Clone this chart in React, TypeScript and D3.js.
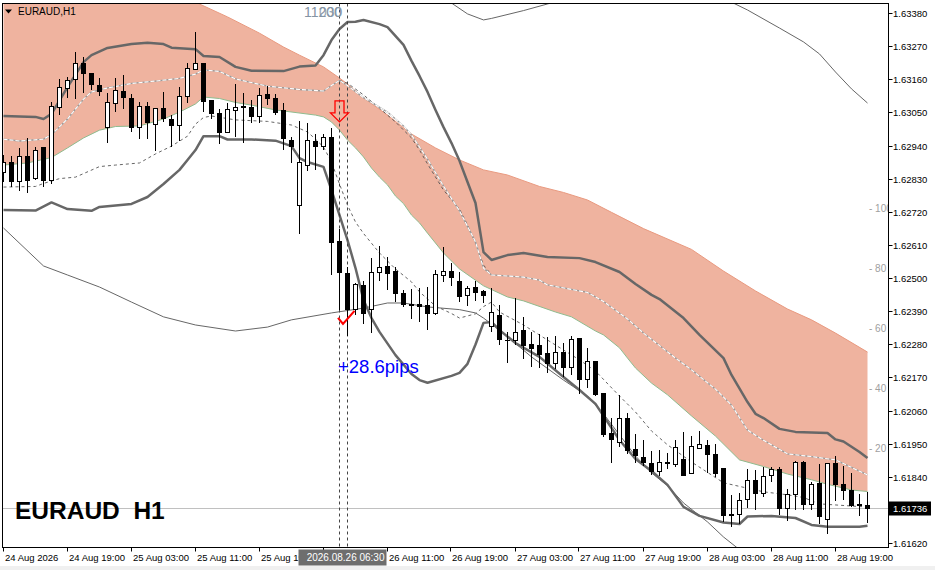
import { useEffect, useRef } from 'react'
import * as d3 from 'd3'

const W = 935, H = 570

// EURAUD H1, one bar per hour from 24 Aug 2026 11:00 — [open, high, low, close]
const candles: [number, number, number, number][] = [
  [1.62851, 1.62908, 1.62820, 1.62884], [1.62884, 1.62905, 1.62803, 1.62820], [1.62820, 1.62931, 1.62790, 1.62904],
  [1.62902, 1.62966, 1.62781, 1.62825], [1.62829, 1.62934, 1.62825, 1.62924], [1.62934, 1.62934, 1.62803, 1.62825],
  [1.62823, 1.63084, 1.62811, 1.63069], [1.63067, 1.63160, 1.63041, 1.63133], [1.63130, 1.63168, 1.63097, 1.63155],
  [1.63160, 1.63250, 1.63093, 1.63213], [1.63213, 1.63235, 1.63113, 1.63178], [1.63180, 1.63182, 1.63124, 1.63143],
  [1.63138, 1.63163, 1.63104, 1.63119], [1.63000, 1.63113, 1.62949, 1.63082], [1.63078, 1.63163, 1.63052, 1.63123],
  [1.63118, 1.63174, 1.63061, 1.63099], [1.63097, 1.63111, 1.62986, 1.62999], [1.63000, 1.63085, 1.62962, 1.63070],
  [1.63070, 1.63085, 1.62961, 1.63017], [1.63010, 1.63062, 1.62923, 1.63062], [1.63062, 1.63118, 1.63019, 1.63029],
  [1.63027, 1.63041, 1.62934, 1.63006], [1.63007, 1.63135, 1.62955, 1.63102], [1.63102, 1.63215, 1.63080, 1.63196],
  [1.63193, 1.63316, 1.63193, 1.63213], [1.63213, 1.63213, 1.63052, 1.63085], [1.63090, 1.63090, 1.63027, 1.63047],
  [1.63047, 1.63061, 1.62944, 1.62984], [1.62982, 1.63080, 1.62980, 1.63058], [1.63057, 1.63143, 1.62967, 1.63067],
  [1.63071, 1.63115, 1.62949, 1.63065], [1.63065, 1.63091, 1.63014, 1.63036], [1.63036, 1.63130, 1.63014, 1.63105],
  [1.63108, 1.63138, 1.63074, 1.63095], [1.63097, 1.63110, 1.63041, 1.63049], [1.63055, 1.63080, 1.62925, 1.62963],
  [1.62958, 1.62969, 1.62881, 1.62936], [1.62740, 1.63021, 1.62646, 1.62884], [1.62873, 1.63014, 1.62856, 1.62955],
  [1.62952, 1.62977, 1.62859, 1.62936], [1.62936, 1.62977, 1.62925, 1.62967], [1.62968, 1.62997, 1.62510, 1.62617],
  [1.62620, 1.62662, 1.62394, 1.62518], [1.62516, 1.62536, 1.62308, 1.62396], [1.62397, 1.62482, 1.62377, 1.62477],
  [1.62474, 1.62491, 1.62347, 1.62383], [1.62394, 1.62565, 1.62316, 1.62517], [1.62519, 1.62607, 1.62490, 1.62536],
  [1.62537, 1.62569, 1.62460, 1.62514], [1.62520, 1.62538, 1.62419, 1.62447], [1.62447, 1.62460, 1.62405, 1.62413],
  [1.62413, 1.62462, 1.62363, 1.62409], [1.62412, 1.62466, 1.62355, 1.62407], [1.62410, 1.62469, 1.62327, 1.62381],
  [1.62383, 1.62527, 1.62377, 1.62513], [1.62508, 1.62602, 1.62488, 1.62522], [1.62522, 1.62549, 1.62474, 1.62501],
  [1.62490, 1.62520, 1.62419, 1.62438], [1.62443, 1.62474, 1.62407, 1.62464], [1.62467, 1.62490, 1.62424, 1.62451],
  [1.62454, 1.62460, 1.62418, 1.62443], [1.62338, 1.62466, 1.62322, 1.62386], [1.62377, 1.62410, 1.62278, 1.62297],
  [1.62294, 1.62322, 1.62219, 1.62291], [1.62294, 1.62433, 1.62276, 1.62320], [1.62327, 1.62369, 1.62230, 1.62277],
  [1.62278, 1.62322, 1.62206, 1.62265], [1.62276, 1.62314, 1.62202, 1.62247], [1.62250, 1.62305, 1.62186, 1.62217],
  [1.62217, 1.62307, 1.62197, 1.62253], [1.62251, 1.62283, 1.62172, 1.62204], [1.62204, 1.62307, 1.62178, 1.62297],
  [1.62298, 1.62298, 1.62114, 1.62164], [1.62164, 1.62269, 1.62136, 1.62224], [1.62224, 1.62224, 1.62108, 1.62114],
  [1.62117, 1.62117, 1.61973, 1.61981], [1.61982, 1.62034, 1.61885, 1.61964], [1.61955, 1.62112, 1.61940, 1.62034],
  [1.62034, 1.62051, 1.61916, 1.61927], [1.61929, 1.61982, 1.61885, 1.61911], [1.61905, 1.61962, 1.61876, 1.61887],
  [1.61885, 1.61926, 1.61846, 1.61857], [1.61857, 1.61929, 1.61843, 1.61888], [1.61888, 1.61920, 1.61865, 1.61886],
  [1.61882, 1.61962, 1.61874, 1.61938], [1.61896, 1.61987, 1.61844, 1.61844], [1.61852, 1.61975, 1.61852, 1.61941],
  [1.61935, 1.61992, 1.61935, 1.61948], [1.61945, 1.61962, 1.61852, 1.61913], [1.61915, 1.61949, 1.61838, 1.61850],
  [1.61868, 1.61868, 1.61689, 1.61711], [1.61713, 1.61780, 1.61674, 1.61711], [1.61715, 1.61785, 1.61683, 1.61762],
  [1.61765, 1.61866, 1.61737, 1.61828], [1.61828, 1.61863, 1.61730, 1.61785], [1.61785, 1.61874, 1.61772, 1.61842],
  [1.61845, 1.61872, 1.61824, 1.61865], [1.61863, 1.61874, 1.61713, 1.61734], [1.61735, 1.61799, 1.61694, 1.61782],
  [1.61781, 1.61893, 1.61730, 1.61888], [1.61888, 1.61893, 1.61730, 1.61747], [1.61747, 1.61821, 1.61730, 1.61815],
  [1.61818, 1.61883, 1.61683, 1.61708], [1.61698, 1.61887, 1.61649, 1.61885], [1.61885, 1.61908, 1.61761, 1.61813],
  [1.61813, 1.61876, 1.61763, 1.61794], [1.61796, 1.61852, 1.61741, 1.61744], [1.61749, 1.61782, 1.61710, 1.61745],
  [1.61743, 1.61791, 1.61688, 1.61736],
]

// indicator lines, [bar, price]
const envTop: [number, number][] = [
  [0, 1.63738], [8, 1.63639], [16, 1.63539], [22, 1.63456], [24, 1.63416], [28, 1.63367], [32, 1.63313], [35, 1.63267],
  [37, 1.63240], [40, 1.63201], [42, 1.63164], [43, 1.63144], [45, 1.63098], [48, 1.63041], [51, 1.62978], [54, 1.62932],
  [57, 1.62892], [60, 1.62859], [63, 1.62842], [67, 1.62804], [70, 1.62784], [73, 1.62759], [76, 1.62718], [80, 1.62664],
  [86, 1.62595], [90, 1.62523], [94, 1.62457], [98, 1.62397], [101, 1.62361], [104, 1.62317], [108, 1.62254],
]
const envBottom: [number, number][] = [
  [0, 1.62875], [3, 1.62882], [6, 1.62900], [8, 1.62932], [10, 1.62965], [12, 1.62991], [14, 1.63003], [17, 1.63005],
  [20, 1.63028], [22, 1.63051], [24, 1.63078], [25, 1.63101], [27, 1.63096], [29, 1.63083], [31, 1.63074], [34, 1.63058],
  [39, 1.63041], [40, 1.63035], [41, 1.63018], [42, 1.62991], [43, 1.62958], [44, 1.62932], [45, 1.62902], [46, 1.62865],
  [47, 1.62835], [48, 1.62809], [49, 1.62772], [50, 1.62747], [51, 1.62709], [52, 1.62683], [53, 1.62649], [55, 1.62583],
  [57, 1.62530], [60, 1.62474], [63, 1.62437], [65, 1.62424], [69, 1.62387], [71, 1.62371], [74, 1.62324], [75, 1.62311],
  [77, 1.62268], [78, 1.62234], [79, 1.62201], [81, 1.62151], [83, 1.62112], [86, 1.62042], [89, 1.61975], [92, 1.61896],
  [95, 1.61874], [98, 1.61849], [101, 1.61830], [103, 1.61815], [106, 1.61796], [108, 1.61791],
]
const envMid: [number, number][] = [
  [0, 1.62961], [2, 1.62955], [5, 1.62961], [6, 1.62976], [8, 1.63028], [10, 1.63094], [11, 1.63118], [13, 1.63131],
  [16, 1.63146], [19, 1.63154], [22, 1.63163], [24, 1.63177], [25, 1.63191], [27, 1.63186], [29, 1.63161], [33, 1.63137],
  [37, 1.63126], [40, 1.63121], [41, 1.63139], [42, 1.63156], [43, 1.63139], [45, 1.63099], [48, 1.63051], [50, 1.63005],
  [51, 1.62975], [53, 1.62895], [55, 1.62805], [57, 1.62723], [59, 1.62620], [60, 1.62533], [61, 1.62510], [65, 1.62503],
  [67, 1.62493], [68, 1.62477], [73, 1.62452], [75, 1.62422], [78, 1.62364], [80, 1.62317], [84, 1.62234], [86, 1.62195],
  [89, 1.62131], [91, 1.62078], [93, 1.61995], [95, 1.61961], [98, 1.61916], [101, 1.61907], [104, 1.61896], [106, 1.61871],
  [108, 1.61846],
]
const fastMid: [number, number][] = [
  [42, 1.63156], [43, 1.63147], [45, 1.63108], [47, 1.63064], [49, 1.63018], [51, 1.62965], [52, 1.62925], [53, 1.62879],
  [55, 1.62792], [57, 1.62729], [58, 1.62676], [59, 1.62616], [60, 1.62543], [61, 1.62510],
]
const bbUpper: [number, number][] = [
  [0, 1.63038], [4, 1.63035], [5, 1.63028], [6, 1.63045], [8, 1.63134], [10, 1.63217], [11, 1.63240], [13, 1.63264],
  [16, 1.63277], [18, 1.63281], [20, 1.63277], [21, 1.63265], [24, 1.63260], [25, 1.63237], [27, 1.63234], [29, 1.63201],
  [31, 1.63188], [35, 1.63187], [37, 1.63202], [39, 1.63206], [40, 1.63240], [41, 1.63290], [42, 1.63327], [43, 1.63350],
  [44, 1.63351], [45, 1.63357], [47, 1.63343], [48, 1.63333], [50, 1.63274], [51, 1.63221], [52, 1.63171], [53, 1.63118],
  [54, 1.63058], [55, 1.63001], [56, 1.62948], [57, 1.62889], [58, 1.62819], [59, 1.62749], [60, 1.62586], [61, 1.62560],
  [63, 1.62576], [65, 1.62583], [68, 1.62570], [72, 1.62566], [74, 1.62553], [77, 1.62520], [79, 1.62480], [81, 1.62444],
  [82, 1.62430], [85, 1.62367], [87, 1.62311], [90, 1.62234], [91, 1.62178], [93, 1.62088], [94, 1.62049], [95, 1.62035],
  [97, 1.61999], [99, 1.61989], [103, 1.61985], [104, 1.61964], [105, 1.61957], [107, 1.61922], [108, 1.61902],
]
const bbLower: [number, number][] = [
  [0, 1.62726], [4, 1.62724], [6, 1.62751], [8, 1.62729], [11, 1.62723], [12, 1.62736], [16, 1.62746], [18, 1.62769],
  [20, 1.62812], [22, 1.62859], [23, 1.62892], [24, 1.62925], [25, 1.62971], [27, 1.62971], [28, 1.62960], [31, 1.62960],
  [34, 1.62956], [36, 1.62938], [37, 1.62898], [38, 1.62885], [40, 1.62869], [41, 1.62792], [42, 1.62709], [43, 1.62626],
  [44, 1.62533], [45, 1.62427], [46, 1.62367], [47, 1.62321], [49, 1.62244], [51, 1.62181], [52, 1.62161], [53, 1.62152],
  [56, 1.62175], [57, 1.62185], [58, 1.62215], [59, 1.62279], [60, 1.62351], [61, 1.62354], [62, 1.62327], [64, 1.62284],
  [67, 1.62238], [70, 1.62171], [72, 1.62128], [74, 1.62082], [77, 1.61962], [79, 1.61899], [81, 1.61859], [83, 1.61813],
  [85, 1.61740], [87, 1.61710], [90, 1.61688], [92, 1.61683], [93, 1.61708], [96, 1.61710], [99, 1.61703], [101, 1.61680],
  [103, 1.61674], [107, 1.61674], [108, 1.61677],
]
const bbMid: [number, number][] = [
  [0, 1.62802], [4, 1.62804], [5, 1.62814], [7, 1.62830], [9, 1.62835], [12, 1.62870], [14, 1.62875], [17, 1.62882],
  [19, 1.62912], [21, 1.62938], [23, 1.62971], [24, 1.63011], [25, 1.63033], [26, 1.63038], [29, 1.63025], [33, 1.63020],
  [36, 1.63008], [38, 1.62985], [39, 1.62961], [40, 1.62935], [41, 1.62885], [42, 1.62812], [43, 1.62742], [44, 1.62686],
  [45, 1.62648], [47, 1.62583], [49, 1.62530], [51, 1.62487], [52, 1.62454], [54, 1.62407], [56, 1.62382], [57, 1.62367],
  [59, 1.62381], [60, 1.62405], [61, 1.62420], [62, 1.62387], [65, 1.62344], [68, 1.62294], [72, 1.62228], [74, 1.62191],
  [77, 1.62108], [79, 1.62055], [81, 1.61992], [83, 1.61946], [86, 1.61889], [90, 1.61820], [95, 1.61790], [98, 1.61780],
  [100, 1.61771], [102, 1.61750], [107, 1.61741], [108, 1.61741],
]
const wideUpper: [number, number][] = [
  [54, 1.63450], [56, 1.63413], [58, 1.63377], [60, 1.63357], [61, 1.63362], [65, 1.63388], [68, 1.63410], [71, 1.63433],
  [76, 1.63473], [84, 1.63463], [88, 1.63450], [91, 1.63416], [93, 1.63390], [97, 1.63330], [100, 1.63284], [102, 1.63244],
  [104, 1.63184], [106, 1.63128], [108, 1.63081],
]
const wideLower: [number, number][] = [
  [0, 1.62666], [5, 1.62540], [8, 1.62510], [12, 1.62470], [16, 1.62420], [20, 1.62371], [24, 1.62344], [29, 1.62324],
  [33, 1.62337], [36, 1.62361], [41, 1.62384], [45, 1.62400], [48, 1.62417], [50, 1.62417], [53, 1.62404], [57, 1.62395],
  [59, 1.62384], [60, 1.62367], [62, 1.62327], [66, 1.62238], [70, 1.62161], [73, 1.62108], [75, 1.62049], [79, 1.61909],
  [81, 1.61853], [83, 1.61810], [85, 1.61753], [88, 1.61690], [90, 1.61640], [93, 1.61577],
]

const priceTicks = [
  1.63380, 1.63270, 1.63160, 1.63050, 1.62940, 1.62830, 1.62720, 1.62610, 1.62500,
  1.62390, 1.62280, 1.62170, 1.62060, 1.61950, 1.61840, 1.61730, 1.61620,
]
const timeLabels: [number, string][] = [
  [0, '24 Aug 2026'], [8, '24 Aug 19:00'], [16, '25 Aug 03:00'], [24, '25 Aug 11:00'], [32, '25 Aug 19:00'],
  [40, '26 Aug 03:00'], [48, '26 Aug 11:00'], [56, '26 Aug 19:00'], [64, '27 Aug 03:00'], [72, '27 Aug 11:00'],
  [80, '27 Aug 19:00'], [88, '28 Aug 03:00'], [96, '28 Aug 11:00'], [104, '28 Aug 19:00'],
]
const oscLevels = [100, 80, 60, 40, 20]

const lastPrice = 1.61736
const crossBars = [42, 43]
const crossLabel = '2026.08.26 06:30'
const sellSignal = { bar: 42, price: 1.63088 }
const exitSignal = { bar: 42, price: 1.62361, text: '+28.6pips' }

const FONT = 'Liberation Sans, Arial, sans-serif'

export default function App() {
  const ref = useRef<SVGSVGElement>(null)

  useEffect(() => {
    const svg = d3.select(ref.current!)
    svg.selectAll('*').remove()

    const L = 2.5, T = 3.5, R = 888.5, B = 547.5
    const x = d3.scaleLinear().domain([0, 108]).range([3.5, 867.5])
    const y = d3.scaleLinear().domain([1.61620, 1.63380]).range([543, 13])
    const osc = d3.scaleLinear().domain([20, 100]).range([448, 208])

    svg.append('rect').attr('width', W).attr('height', H).attr('fill', '#fff')
    svg.append('rect').attr('y', 566).attr('width', W).attr('height', 4).attr('fill', '#f0f0f0')

    svg.append('defs').append('clipPath').attr('id', 'plot')
      .append('rect').attr('x', L + 0.5).attr('y', T + 0.5).attr('width', R - L - 1).attr('height', B - T - 1)
    const g = svg.append('g').attr('clip-path', 'url(#plot)')

    const line = d3.line<[number, number]>().x(d => x(d[0])).y(d => y(d[1]))

    // envelope band
    const poly = [...envTop, ...envBottom.slice().reverse()]
    g.append('path').attr('d', line(poly) + 'Z').attr('fill', '#efb39f')
    g.append('path').attr('d', line(envTop)).attr('fill', 'none').attr('stroke', '#e99a80').attr('stroke-width', 1)
    g.append('path').attr('d', line(envBottom)).attr('fill', 'none').attr('stroke', '#8fbc8f').attr('stroke-width', 1)

    // oscillator level labels
    oscLevels.forEach(v => {
      g.append('text').attr('x', 869).attr('y', osc(v) + 3.5).attr('font-family', FONT).attr('font-size', 10)
        .attr('fill', '#a0a0a0').text(`- ${v}`)
    })

    // last price line
    g.append('line').attr('x1', L).attr('x2', R).attr('y1', Math.round(y(lastPrice)) + 0.5).attr('y2', Math.round(y(lastPrice)) + 0.5)
      .attr('stroke', '#c0c0c0')

    // thin wide band
    ;[wideUpper, wideLower].forEach(s => {
      g.append('path').attr('d', line(s)).attr('fill', 'none').attr('stroke', '#555').attr('stroke-width', 0.9)
    })
    // dashed middles
    g.append('path').attr('d', line(bbMid)).attr('fill', 'none').attr('stroke', '#555')
      .attr('stroke-width', 0.9).attr('stroke-dasharray', '3,3')
    g.append('path').attr('d', line(fastMid)).attr('fill', 'none').attr('stroke', '#555')
      .attr('stroke-width', 0.9).attr('stroke-dasharray', '3,3')
    g.append('path').attr('d', line(envMid)).attr('fill', 'none').attr('stroke', '#9a9a9a').attr('stroke-width', 1.3)
    g.append('path').attr('d', line(envMid)).attr('fill', 'none').attr('stroke', '#fff')
      .attr('stroke-width', 1.1).attr('stroke-dasharray', '4,2')

    // thick bands
    ;[bbUpper, bbLower].forEach(s => {
      g.append('path').attr('d', line(s)).attr('fill', 'none').attr('stroke', '#676767').attr('stroke-width', 2.5)
        .attr('stroke-linejoin', 'round')
    })

    // vertical dashed lines
    crossBars.forEach(b => {
      g.append('line').attr('x1', x(b)).attr('x2', x(b)).attr('y1', T).attr('y2', B)
        .attr('stroke', '#444').attr('stroke-dasharray', '3,3')
    })

    // candles
    const cg = g.append('g').attr('shape-rendering', 'crispEdges')
    candles.forEach((c, i) => {
      const [o, h, l, cl] = c
      const cx = x(i)
      cg.append('line').attr('x1', cx).attr('x2', cx).attr('y1', y(h)).attr('y2', y(l)).attr('stroke', '#000')
      const top = y(Math.max(o, cl)), bot = y(Math.min(o, cl))
      cg.append('rect').attr('x', cx - 2).attr('y', top).attr('width', 4).attr('height', Math.max(bot - top, 0.8))
        .attr('fill', cl >= o ? '#fff' : '#000').attr('stroke', '#000').attr('stroke-width', 1)
    })

    // sell arrow
    const ax = x(sellSignal.bar), ay = y(sellSignal.price)
    const arrow = d3.path()
    arrow.moveTo(ax - 4.5, ay); arrow.lineTo(ax + 4.5, ay); arrow.lineTo(ax + 4.5, ay + 12)
    arrow.lineTo(ax + 9, ay + 12); arrow.lineTo(ax, ay + 21); arrow.lineTo(ax - 9, ay + 12)
    arrow.lineTo(ax - 4.5, ay + 12); arrow.closePath()
    g.append('path').attr('d', arrow.toString()).attr('fill', 'none').attr('stroke', '#ff0000').attr('stroke-width', 1.3)

    // exit check mark and result
    const ex = x(exitSignal.bar), ey = y(exitSignal.price)
    g.append('path').attr('d', `M${ex - 1.5},${ey - 2}L${ex + 3.5},${ey + 4}L${ex + 15},${ey - 9}`)
      .attr('fill', 'none').attr('stroke', '#ff0000').attr('stroke-width', 2.2).attr('stroke-linejoin', 'miter')
    g.append('text').attr('x', ex - 1.5).attr('y', ey + 53).attr('font-family', FONT).attr('font-size', 18.5)
      .attr('fill', '#0000ff').text(exitSignal.text)

    // overlapping labels at top
    g.append('text').attr('x', 304).attr('y', 17).attr('font-family', FONT).attr('font-size', 14)
      .attr('fill', '#8494a4').text('11200')
    g.append('text').attr('x', 319).attr('y', 17).attr('font-family', FONT).attr('font-size', 14)
      .attr('fill', '#8494a4').attr('opacity', 0.8).text('030')

    // symbol texts
    g.append('path').attr('d', 'M5,9.5L12,9.5L8.5,13.5Z').attr('fill', '#000')
    g.append('text').attr('x', 18).attr('y', 15).attr('font-family', FONT).attr('font-size', 10).attr('fill', '#000')
      .text('EURAUD,H1')
    g.append('text').attr('x', 15).attr('y', 519).attr('font-family', FONT).attr('font-size', 24.5)
      .attr('font-weight', 'bold').attr('fill', '#000').attr('xml:space', 'preserve').style('white-space', 'pre')
      .text('EURAUD  H1')

    // frame
    svg.append('rect').attr('x', L).attr('y', T).attr('width', R - L).attr('height', B - T)
      .attr('fill', 'none').attr('stroke', '#000').attr('shape-rendering', 'crispEdges')

    // price axis
    const pa = svg.append('g').attr('font-family', FONT).attr('font-size', 9.5)
    priceTicks.forEach(p => {
      const yy = Math.round(y(p)) + 0.5
      pa.append('line').attr('x1', R).attr('x2', R + 4).attr('y1', yy).attr('y2', yy).attr('stroke', '#000')
      pa.append('text').attr('x', 893).attr('y', yy + 3.5).attr('fill', '#000').text(p.toFixed(5))
    })
    const ly = Math.round(y(lastPrice)) + 0.5
    pa.append('rect').attr('x', R + 0.5).attr('y', ly - 7).attr('width', 42).attr('height', 14).attr('fill', '#000')
    pa.append('text').attr('x', 893).attr('y', ly + 3.5).attr('fill', '#fff').text(lastPrice.toFixed(5))

    // time axis
    const ta = svg.append('g').attr('font-family', FONT).attr('font-size', 9.5)
    timeLabels.forEach(([b, s]) => {
      const xx = Math.round(x(b)) - 0.5
      ta.append('line').attr('x1', xx).attr('x2', xx).attr('y1', B).attr('y2', B + 4).attr('stroke', '#000')
      ta.append('text').attr('x', xx + 1.5).attr('y', 561).attr('fill', '#000').text(s)
    })
    const bx0 = x(crossBars[0]) - 41
    ta.append('rect').attr('x', bx0).attr('y', B + 2).attr('width', 88).attr('height', 16).attr('fill', '#6e6e6e')
    ta.append('text').attr('x', bx0 + 86).attr('y', 561).attr('text-anchor', 'end').attr('fill', '#fff')
      .attr('font-size', 10).text(crossLabel)
  }, [])

  return (
    <div style={{ position: 'absolute', left: 0, top: 0 }}>
      <svg ref={ref} width={W} height={H} style={{ display: 'block' }} />
    </div>
  )
}
